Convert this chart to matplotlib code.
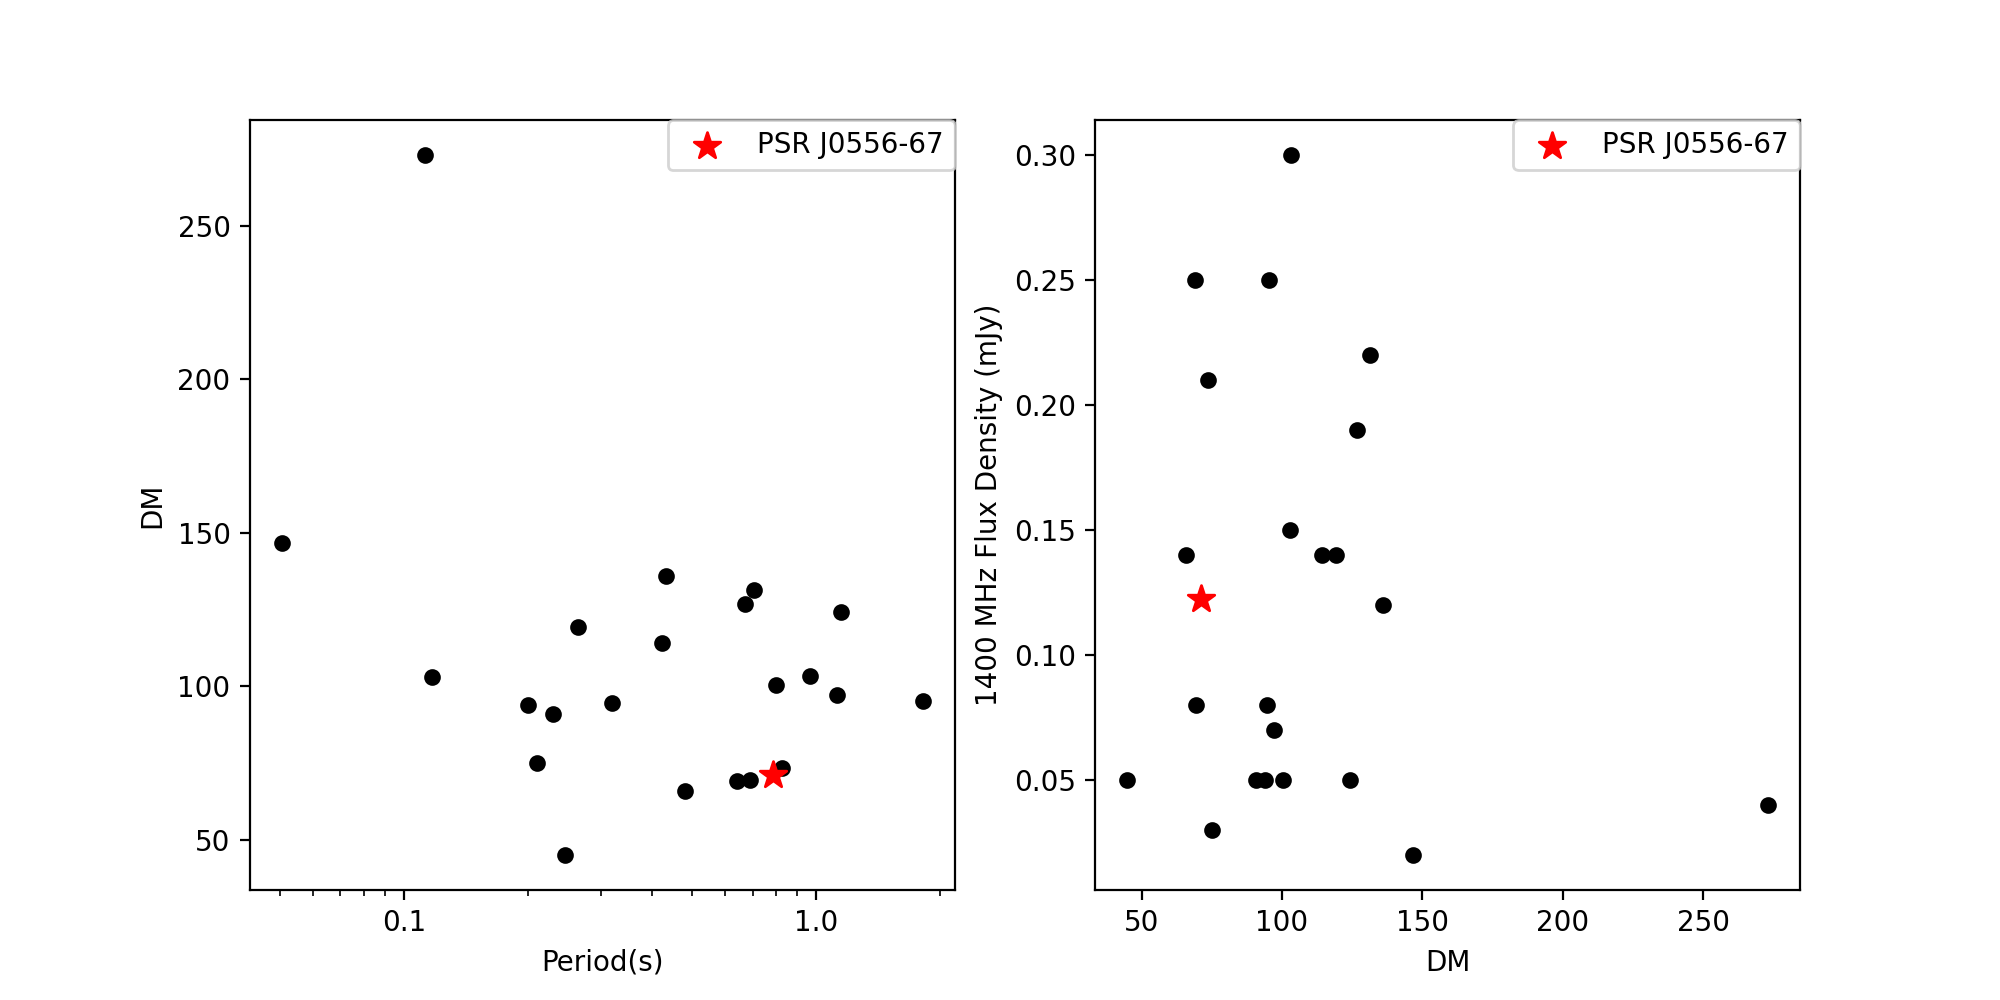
import matplotlib
matplotlib.use("Agg")
import matplotlib.pyplot as plt
from matplotlib.ticker import FormatStrFormatter

period = [0.112, 0.0505, 0.117, 0.965, 0.1996, 0.210, 0.230, 0.245, 0.264,
          0.320, 1.81, 0.422, 0.431, 0.480, 0.642, 0.690, 0.671, 0.705,
          0.796, 0.824, 1.12, 1.145]
dm = [273.0, 146.7, 102.9, 103.3, 93.8, 75.0, 90.8, 45.0, 119.2,
      94.6, 95.2, 114.2, 135.8, 65.8, 69.2, 69.5, 126.7, 131.2,
      100.4, 73.5, 97.1, 124.2]
flux = [0.04, 0.02, 0.15, 0.30, 0.05, 0.03, 0.05, 0.05, 0.14,
        0.08, 0.25, 0.14, 0.12, 0.14, 0.25, 0.08, 0.19, 0.22,
        0.05, 0.21, 0.07, 0.05]

star_period = [0.785]
star_dm = [71.0]
star_flux = [0.1225]
star_label = "PSR J0556-67"

fig, (ax1, ax2) = plt.subplots(1, 2, figsize=(10, 5), dpi=200)

ax1.scatter(period, dm, color="black", s=25)
ax1.scatter(star_period, star_dm, color="red", marker="*", s=100, label=star_label)
ax1.set_xscale("log")
ax1.xaxis.set_major_formatter(FormatStrFormatter("%.1f"))
ax1.set_xlabel("Period(s)")
ax1.set_ylabel("DM")
ax1.legend(loc="upper right", borderaxespad=0)

ax2.scatter(dm, flux, color="black", s=25)
ax2.scatter(star_dm, star_flux, color="red", marker="*", s=100, label=star_label)
ax2.set_xlabel("DM")
ax2.set_ylabel("1400 MHz Flux Density (mJy)")
ax2.legend(loc="upper right", borderaxespad=0)

fig.savefig("out.png")
